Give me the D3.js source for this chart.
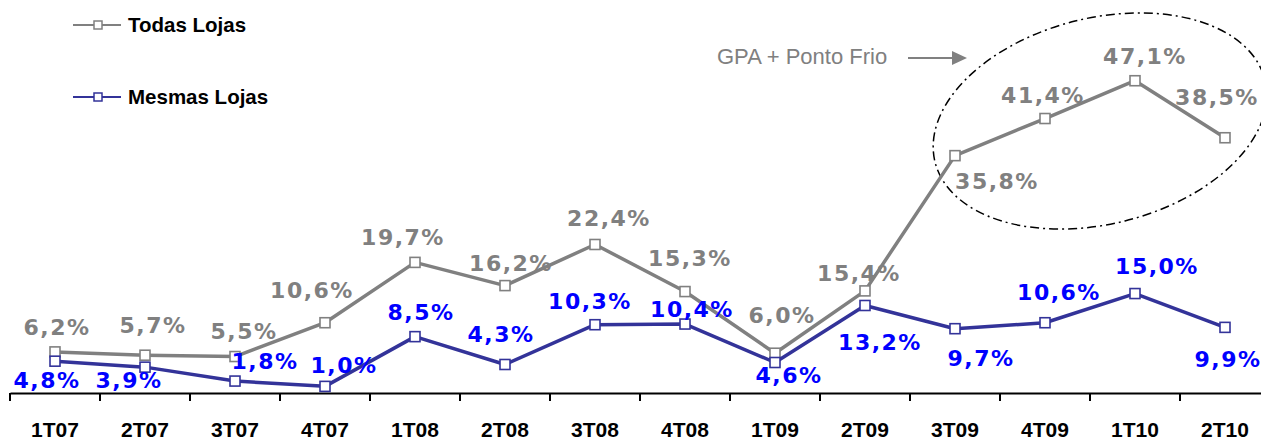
<!DOCTYPE html>
<html>
<head>
<meta charset="utf-8">
<script src="https://cdn.jsdelivr.net/npm/d3@7"></script>
<style>
  html, body { margin: 0; padding: 0; background: #fff; }
  svg { display: block; }
</style>
</head>
<body>
<svg id="chart" width="1261" height="441"></svg>
<script>
const quarters = ["1T07", "2T07", "3T07", "4T07", "1T08", "2T08", "3T08", "4T08",
  "1T09", "2T09", "3T09", "4T09", "1T10", "2T10"];
const todasLojas = [6.2, 5.7, 5.5, 10.6, 19.7, 16.2, 22.4, 15.3, 6.0, 15.4, 35.8, 41.4, 47.1, 38.5];
const mesmasLojas = [4.8, 3.9, 1.8, 1.0, 8.5, 4.3, 10.3, 10.4, 4.6, 13.2, 9.7, 10.6, 15.0, 9.9];
const seriesNames = ["Todas Lojas", "Mesmas Lojas"];
const annotationText = "GPA + Ponto Frio";

// label placement relative to each point [dx, dy of baseline]
const todasLabelPos = [[2, -17], [8, -22], [9, -18], [-13, -25], [-12, -17], [6, -15], [14, -18],
  [5, -26], [7, -30], [-6, -10], [42, 33], [-2, -16], [10, -17], [-8, -33]];
const mesmasLabelPos = [[-8, 27], [-16, 21], [30, -12], [19, -13], [6, -17], [-4, -22], [-5, -16],
  [7, -7], [14, 20], [15, 45], [26, 37], [14, -23], [22, -20], [3, 40]];

const svg = d3.select("#chart");
const axisY = 393;

const x = d3.scaleBand().domain(quarters).range([10, 10 + 14 * 90]).padding(0);
const y = d3.scaleLinear().domain([0, 50]).range([axisY, 61.5]);
const cx = (d) => x(d) + x.bandwidth() / 2;

const fmt = (v) => v.toFixed(1).replace(".", ",") + "%";

// x axis
const xAxis = svg.append("g")
  .attr("class", "x-axis")
  .attr("transform", `translate(0,${axisY})`)
  .call(d3.axisBottom(x).tickSize(0).tickSizeOuter(0));
xAxis.select(".domain").attr("stroke", "#000").attr("stroke-width", 2);
xAxis.selectAll("text")
  .attr("y", 44).attr("dy", 0)
  .attr("fill", "#000")
  .style("font-family", "'Liberation Sans', Arial, sans-serif")
  .style("font-weight", "bold")
  .style("font-size", "21px");

// boundary ticks
svg.append("g").selectAll("line")
  .data(quarters.concat(["end"]))
  .join("line")
  .attr("x1", (d, i) => i < quarters.length ? x(d) : x.range()[1])
  .attr("x2", (d, i) => i < quarters.length ? x(d) : x.range()[1])
  .attr("y1", axisY)
  .attr("y2", axisY + 8)
  .attr("stroke", "#000")
  .attr("stroke-width", 2);

// ellipse annotation
svg.append("ellipse")
  .attr("cx", 1100).attr("cy", 121)
  .attr("rx", 170).attr("ry", 103)
  .attr("transform", "rotate(-14,1100,121)")
  .attr("fill", "none")
  .attr("stroke", "#000")
  .attr("stroke-width", 1.5)
  .attr("stroke-dasharray", "9,4,2,4");

svg.append("text")
  .attr("x", 717).attr("y", 64)
  .attr("fill", "#808080")
  .style("font-family", "'Liberation Sans', Arial, sans-serif")
  .style("font-size", "22px")
  .text(annotationText);
svg.append("line")
  .attr("x1", 908).attr("x2", 953)
  .attr("y1", 58).attr("y2", 58)
  .attr("stroke", "#808080").attr("stroke-width", 2);
svg.append("path")
  .attr("d", "M952,51 L967,58 L952,65 Z")
  .attr("fill", "#808080");

const series = [
  { name: seriesNames[0], values: todasLojas, line: "#808080", label: "#808080", pos: todasLabelPos },
  { name: seriesNames[1], values: mesmasLojas, line: "#333399", label: "#0000FF", pos: mesmasLabelPos },
];

const line = d3.line()
  .x((d) => cx(d.q))
  .y((d) => y(d.v));

series.forEach((s) => {
  const pts = quarters.map((q, i) => ({ q, v: s.values[i], p: s.pos[i] }));
  const g = svg.append("g");
  g.append("path")
    .datum(pts)
    .attr("fill", "none")
    .attr("stroke", s.line)
    .attr("stroke-width", 3.5)
    .attr("stroke-linejoin", "round")
    .attr("d", line);
  g.selectAll("rect")
    .data(pts)
    .join("rect")
    .attr("x", (d) => cx(d.q) - 5)
    .attr("y", (d) => y(d.v) - 5)
    .attr("width", 10).attr("height", 10)
    .attr("fill", "#fff")
    .attr("stroke", s.line)
    .attr("stroke-width", 1.6);
  g.selectAll("text")
    .data(pts)
    .join("text")
    .attr("x", (d) => cx(d.q) + d.p[0])
    .attr("y", (d) => y(d.v) + d.p[1])
    .attr("text-anchor", "middle")
    .attr("fill", s.label)
    .style("font-family", "'DejaVu Sans', Verdana, sans-serif")
    .style("font-weight", "bold")
    .style("font-size", "22px")
    .style("letter-spacing", "1.5px")
    .text((d) => fmt(d.v));
});

// legend
const legend = svg.append("g").selectAll("g")
  .data(series)
  .join("g")
  .attr("transform", (d, i) => `translate(0,${i === 0 ? 25 : 97})`);
legend.append("line")
  .attr("x1", 73).attr("x2", 121)
  .attr("stroke", (d) => d.line).attr("stroke-width", 2);
legend.append("rect")
  .attr("x", 94).attr("y", -4)
  .attr("width", 8).attr("height", 8)
  .attr("fill", "#fff")
  .attr("stroke", (d) => d.line).attr("stroke-width", 1.5);
legend.append("text")
  .attr("x", 128).attr("y", 7)
  .attr("fill", "#000")
  .style("font-family", "'Liberation Sans', Arial, sans-serif")
  .style("font-weight", "bold")
  .style("font-size", "20.5px")
  .text((d) => d.name);
</script>
</body>
</html>
